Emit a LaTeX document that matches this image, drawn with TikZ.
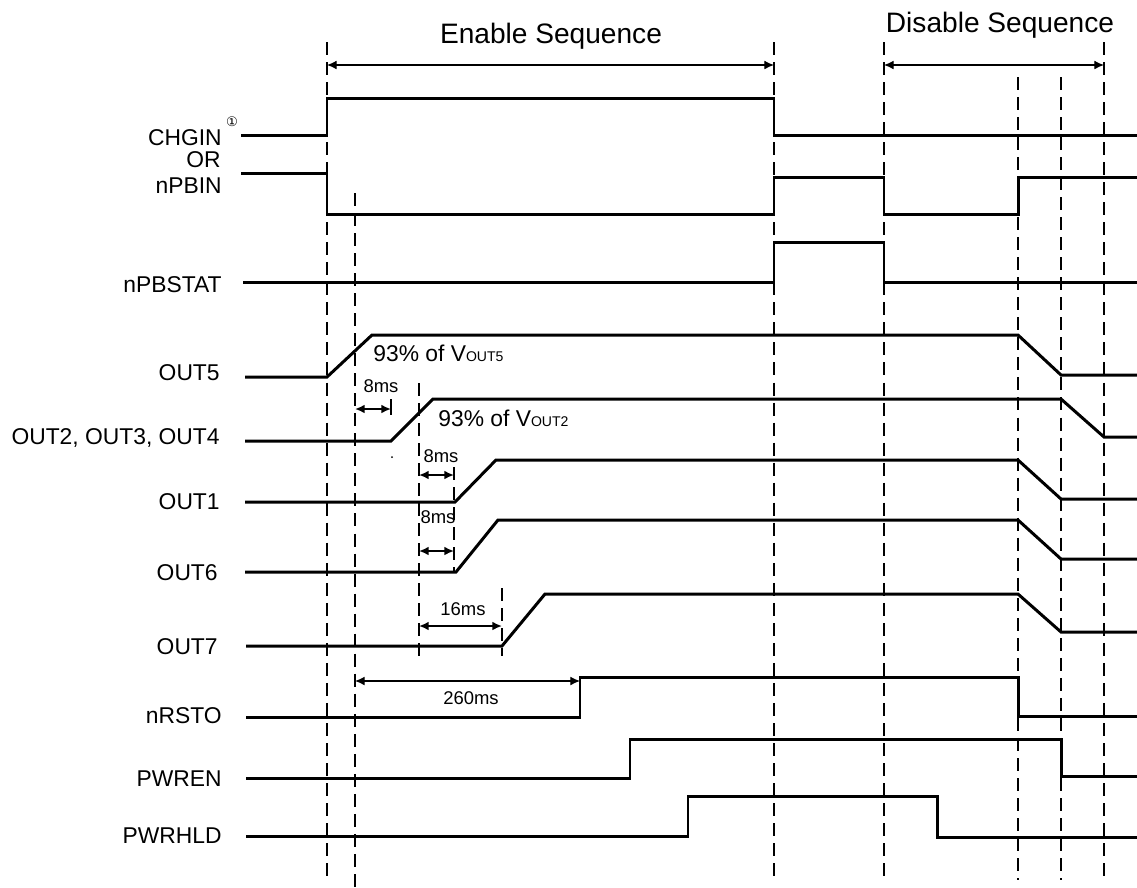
\documentclass[tikz,border=0pt]{standalone}
\usepackage{fontspec}
\setmainfont{Liberation Sans}
\newfontfamily\circfont{DejaVu Sans}
\usetikzlibrary{arrows.meta}

\tikzset{
  sig/.style={line width=1.7pt},
  guide/.style={line width=1.1pt,dash pattern=on 7.4pt off 4pt},
  span/.style={<->,line width=0.6pt},
  gap/.style={<->,line width=1pt},
  lbl/.style={anchor=base east,inner sep=0pt,font=\fontsize{13}{15}\selectfont},
  msr/.style={anchor=base,inner sep=0pt,font=\fontsize{10.5}{12}\selectfont},
  pct/.style={anchor=base west,inner sep=0pt,font=\fontsize{13}{15}\selectfont},
  head/.style={anchor=base,inner sep=0pt,font=\fontsize{16}{18}\selectfont}
}
\newcommand{\vsub}[1]{{\fontsize{8}{9}\selectfont #1}}

\begin{document}
\begin{tikzpicture}[x=0.02cm,y=-0.02cm,>={Latex[length=5.5pt,width=5pt]}]
  \useasboundingbox (0,0) rectangle (1137,887);
  \foreach \x in {327,774,884,1104} \draw[guide] (\x,42) -- (\x,880);
  \foreach \x in {1018,1061} \draw[guide] (\x,77) -- (\x,880);
  \draw[guide] (355,193) -- (355,887);
  \draw[guide] (419,383) -- (419,657);
  \draw[guide] (454,467) -- (454,572);
  \draw[guide] (502,588) -- (502,656);
  \draw[line width=1.1pt] (391,399) -- (391,415);
  \fill (392,457) circle (1);

  \node[head] (en) at (551,43) {Enable Sequence};
  \node[head] (dis) at (1000,32) {Disable Sequence};
  \draw[span] (327,65) -- (774,65);
  \draw[span] (884,65) -- (1104,65);

  \draw[sig] (241,135) -- (327,135) -- (327,98) -- (774,98) -- (774,135) -- (1137,135);
  \draw[sig] (241,173) -- (327,173) -- (327,214) -- (774,214) -- (774,177) -- (884,177) -- (884,214) -- (1018,214) -- (1018,177) -- (1137,177);
  \draw[sig] (243,282) -- (774,282) -- (774,242) -- (884,242) -- (884,282) -- (1137,282);
  \draw[sig] (245,377) -- (327,377) -- (372,335) -- (1018,335) -- (1061,375) -- (1137,375);
  \draw[sig] (245,441) -- (391,441) -- (433,399) -- (1061,399) -- (1104,437) -- (1137,437);
  \draw[sig] (245,502) -- (455,502) -- (496,460) -- (1018,460) -- (1061,499) -- (1137,499);
  \draw[sig] (245,572) -- (456,572) -- (498,520) -- (1018,520) -- (1061,559) -- (1137,559);
  \draw[sig] (246,646) -- (502,646) -- (545,594) -- (1018,594) -- (1061,632) -- (1137,632);
  \draw[sig] (246,717) -- (580,717) -- (580,677) -- (1018,677) -- (1018,716) -- (1137,716);
  \draw[sig] (246,778) -- (630,778) -- (630,739) -- (1061,739) -- (1061,776) -- (1137,776);
  \draw[sig] (246,836) -- (688,836) -- (688,796) -- (937,796) -- (937,837) -- (1137,837);

  \node[lbl] (chgin) at (222,145) {CHGIN};
  \node[inner sep=0pt,font=\circfont\fontsize{7.5}{8}\selectfont] (note) at (232,122) {①};
  \node[lbl] (or) at (221,167) {OR};
  \node[lbl] (pbin) at (222,193) {nPBIN};
  \node[lbl] (pbstat) at (222,292) {nPBSTAT};
  \node[lbl] (out5) at (220,380) {OUT5};
  \node[lbl] (out234) at (220,444) {OUT2, OUT3, OUT4};
  \node[lbl] (out1) at (220,509) {OUT1};
  \node[lbl] (out6) at (218,580) {OUT6};
  \node[lbl] (out7) at (218,654) {OUT7};
  \node[lbl] (rsto) at (222,723) {nRSTO};
  \node[lbl] (pwren) at (222,786) {PWREN};
  \node[lbl] (pwrhld) at (222,843) {PWRHLD};

  \node[pct] (v5) at (373,361) {93\% of V\vsub{OUT5}};
  \node[pct] (v2) at (438,426) {93\% of V\vsub{OUT2}};

  \draw[gap] (355,409) -- (391,409);
  \node[msr] (d1) at (381,392) {8ms};
  \draw[gap] (419,475) -- (454,475);
  \node[msr] (d2) at (441,462) {8ms};
  \draw[gap] (419,551) -- (454,551);
  \node[msr] (d3) at (438,523) {8ms};
  \draw[gap] (419,626) -- (502,626);
  \node[msr] (d4) at (463,615) {16ms};
  \draw[span] (355,681) -- (580,681);
  \node[msr] (d5) at (471,704) {260ms};
\end{tikzpicture}
\end{document}
